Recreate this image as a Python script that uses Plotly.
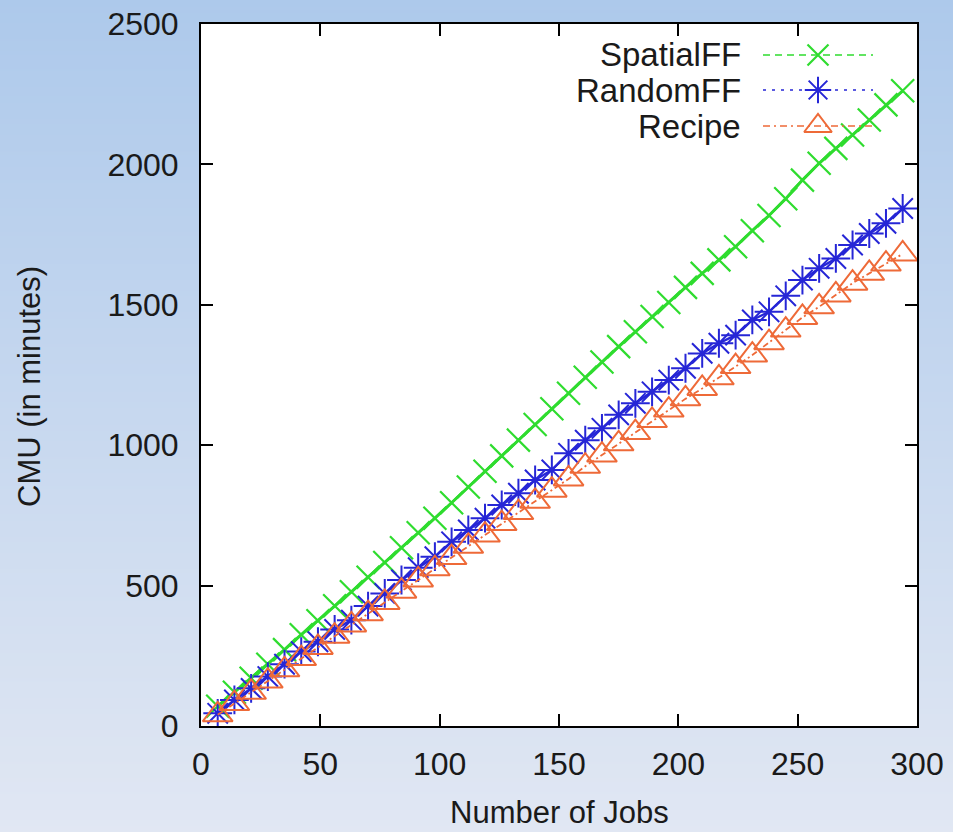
import base64
import struct
import zlib

import plotly.graph_objects as go

# ---------------- data ----------------
jobs = [7, 14, 21, 28, 35, 42, 49, 56, 63, 70, 77, 84, 91, 98, 105, 112, 119, 126, 133, 140, 147,
        154, 161, 168, 175, 182, 189, 196, 203, 210, 217, 224, 231, 238, 245, 252, 259, 266, 273,
        280, 287, 294]

spatial_ff = [70, 120, 170, 220, 272, 325, 375, 428, 478, 530, 582, 635, 688, 740, 795, 851, 907,
              962, 1018, 1074, 1130, 1185, 1242, 1296, 1351, 1404, 1458, 1508, 1562, 1612, 1660,
              1707, 1764, 1818, 1878, 1944, 2004, 2057, 2105, 2158, 2212, 2262]

random_ff = [45, 93, 134, 176, 220, 265, 300, 344, 377, 427, 472, 520, 564, 603, 656, 698, 740,
             787, 829, 876, 912, 971, 1018, 1060, 1108, 1149, 1190, 1232, 1274, 1327, 1363, 1392,
             1446, 1475, 1532, 1588, 1630, 1665, 1713, 1754, 1790, 1843]

recipe = [40, 80, 120, 160, 200, 240, 280, 320, 360, 400, 440, 480, 520, 560, 600, 640, 680, 721,
          760, 800, 840, 880, 925, 965, 1005, 1045, 1088, 1125, 1165, 1202, 1240, 1280, 1321, 1365,
          1410, 1455, 1493, 1535, 1577, 1612, 1645, 1681]

series_names = ["SpatialFF", "RandomFF", "Recipe"]
x_ticks = [0, 50, 100, 150, 200, 250, 300]
y_ticks = [0, 500, 1000, 1500, 2000, 2500]
x_title = "Number of Jobs"
y_title = "CMU (in minutes)"

# ---------------- style ----------------
W, H = 953, 832
ML, MR, MT, MB = 201, 36, 24, 106
GREEN = "#2fdc2f"
BLUE = "#2626d6"
ORANGE = "#ee6a38"
TXT = "#1a1a1a"
FONT = "Liberation Sans, Arial, sans-serif"

styles = [
    dict(color=GREEN, symbol="x-thin-open", size=23, mlw=2.2, lw=3.0, dash="solid",
         leg_dash="7px,5px"),
    dict(color=BLUE, symbol="asterisk-open", size=24, mlw=2.0, lw=2.4, dash="solid",
         leg_dash="3px,6px"),
    dict(color=ORANGE, symbol="triangle-up-open", size=26, mlw=2.0, lw=1.8, dash="6px,3px,2px,3px",
         leg_dash="7px,4px,2px,4px"),
]
series_vals = [spatial_ff, random_ff, recipe]

fig = go.Figure()

for name, vals, st in zip(series_names, series_vals, styles):
    fig.add_trace(go.Scatter(
        x=jobs, y=vals, name=name, mode="lines+markers", showlegend=False,
        line=dict(color=st["color"], width=st["lw"], dash=st["dash"]),
        marker=dict(symbol=st["symbol"], size=st["size"], color=st["color"],
                    line=dict(color=st["color"], width=st["mlw"])),
    ))

# ---------------- manual legend (sample to the right of the text) ----------------
plot_w = W - ML - MR
plot_h = H - MT - MB
leg_rows_px = [55, 90, 126]          # vertical centres (pixels from top)
leg_line_px = (763, 873)             # sample line extent (pixels from left)
leg_mark_px = 818
leg_text_px = 743


def fx(px):
    return (px - ML) / plot_w


def fy(py):
    return (H - MB - py) / plot_h


for name, st, rowpx in zip(series_names, styles, leg_rows_px):
    yy = fy(rowpx)
    fig.add_trace(go.Scatter(
        x=[fx(leg_line_px[0]), fx(leg_line_px[1])], y=[yy, yy], xaxis="x2", yaxis="y2",
        mode="lines", showlegend=False, hoverinfo="skip",
        line=dict(color=st["color"], width=1.6, dash=st["leg_dash"]),
    ))
    fig.add_trace(go.Scatter(
        x=[fx(leg_mark_px)], y=[yy], xaxis="x2", yaxis="y2", mode="markers",
        showlegend=False, hoverinfo="skip", cliponaxis=False,
        marker=dict(symbol=st["symbol"], size=st["size"] - 2, color=st["color"],
                    line=dict(color=st["color"], width=st["mlw"])),
    ))
    fig.add_annotation(
        x=fx(leg_text_px), y=yy, xref="paper", yref="paper", text=name,
        showarrow=False, xanchor="right", yanchor="middle",
        font=dict(family=FONT, size=33, color=TXT),
    )

# ---------------- axis titles ----------------
fig.add_annotation(
    x=0.5, y=fy(812), xref="paper", yref="paper", text=x_title, showarrow=False,
    xanchor="center", yanchor="middle", font=dict(family=FONT, size=31, color=TXT),
)
fig.add_annotation(
    x=fx(30), y=fy(387), xref="paper", yref="paper", text=y_title, showarrow=False,
    textangle=-90, xanchor="center", yanchor="middle",
    font=dict(family=FONT, size=31, color=TXT),
)


# ---------------- background gradient (stretched 1-px-wide PNG) ----------------
def gradient_png(h, top, bot):
    rows = []
    for i in range(h):
        t = i / (h - 1)
        c = bytes(round(a + (b - a) * t) for a, b in zip(top, bot))
        rows.append(b"\x00" + c)
    raw = b"".join(rows)

    def chunk(tag, data):
        return (struct.pack(">I", len(data)) + tag + data
                + struct.pack(">I", zlib.crc32(tag + data) & 0xFFFFFFFF))

    ihdr = struct.pack(">IIBBBBB", 1, h, 8, 2, 0, 0, 0)
    png = (b"\x89PNG\r\n\x1a\n" + chunk(b"IHDR", ihdr) + chunk(b"IDAT", zlib.compress(raw))
           + chunk(b"IEND", b""))
    return "data:image/png;base64," + base64.b64encode(png).decode()


top_rgb = (173, 201, 235)
bot_rgb = (225, 231, 243)
fig.add_layout_image(
    source=gradient_png(H, top_rgb, bot_rgb), xref="paper", yref="paper",
    x=fx(-2), y=fy(-2), sizex=fx(W + 2) - fx(-2), sizey=fy(-2) - fy(H + 2),
    xanchor="left", yanchor="top", sizing="stretch", layer="below",
)

shapes = [dict(type="rect", xref="paper", yref="paper", layer="below",
               x0=0, x1=1, y0=0, y1=1, fillcolor="white", line=dict(width=0))]

axis_common = dict(
    showgrid=False, zeroline=False, showline=True, linecolor="black", linewidth=2,
    mirror="allticks", ticks="inside", ticklen=12, tickwidth=1.5, tickcolor="black",
    tickfont=dict(family=FONT, size=32, color=TXT), automargin=False,
)

fig.update_layout(
    template="none",
    width=W, height=H, autosize=False,
    margin=dict(l=ML, r=MR, t=MT, b=MB, pad=0),
    paper_bgcolor="rgb(200,216,239)", plot_bgcolor="white",
    font=dict(family=FONT, color=TXT),
    shapes=shapes,
    showlegend=False,
    xaxis=dict(range=[0, 300], tickvals=x_ticks, ticktext=[str(v) for v in x_ticks],
               ticklabelstandoff=9, **axis_common),
    yaxis=dict(range=[0, 2500], tickvals=y_ticks, ticktext=[str(v) for v in y_ticks],
               ticklabelstandoff=14, **axis_common),
    xaxis2=dict(overlaying="x", anchor="y2", range=[0, 1], visible=False, fixedrange=True),
    yaxis2=dict(overlaying="y", anchor="x2", range=[0, 1], visible=False, fixedrange=True),
)

fig.write_html("out.html")
